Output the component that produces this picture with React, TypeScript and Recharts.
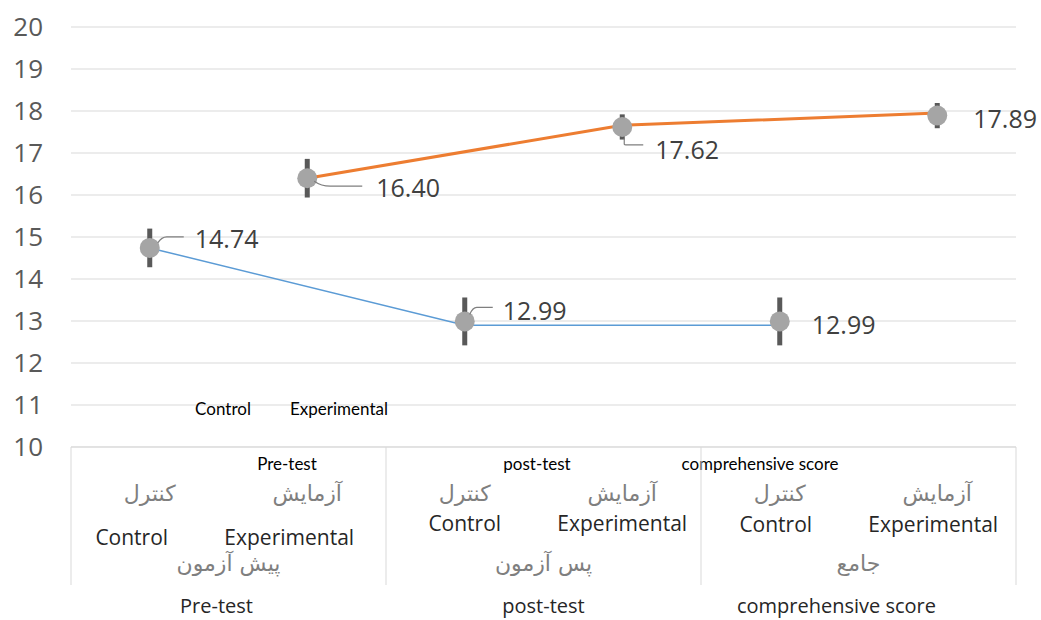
import React from 'react'
import { LineChart, Line, XAxis, YAxis, CartesianGrid, ErrorBar } from 'recharts'

const categories = ['Control', 'Experimental', 'Control', 'Experimental', 'Control', 'Experimental']
const categoriesFa = ['کنترل', 'آزمایش', 'کنترل', 'آزمایش', 'کنترل', 'آزمایش']
const groups = ['Pre-test', 'post-test', 'comprehensive score']
const groupsFa = ['پیش آزمون', 'پس آزمون', 'جامع']
const meanScores = [14.74, 16.4, 12.99, 17.62, 12.99, 17.89]
const errorRange = [0.46, 0.46, 0.57, 0.3, 0.57, 0.3]
const controlLine = [14.74, null, 12.9, null, 12.9, null]
const experimentalLine = [null, 16.4, null, 17.66, null, 17.95]
const yTicks = [10, 11, 12, 13, 14, 15, 16, 17, 18, 19, 20]

const W = 1041
const H = 620
const margin = { top: 27, right: 25, left: 0, bottom: 0 }
const Y_AXIS_W = 71
const X_AXIS_H = 173
const plotW = W - Y_AXIS_W - margin.right
const step = plotW / categories.length

// label placement next to each marker: [dx to text start, dy to text middle, leader path]
const labelPlacement = [
  { dx: 45, dy: -10, leader: 'M8,-5 Q12,-11 17,-11 L34,-11' },
  { dx: 69, dy: 9, leader: 'M7,3 Q14,8 23,8 L55,8' },
  { dx: 38, dy: -11, leader: 'M5,-7 Q8,-14 12,-14 L28,-14' },
  { dx: 33, dy: 22, leader: 'M2,11 L2,17 Q2,18 5,18 L21,18' },
  { dx: 32, dy: 3, leader: '' },
  { dx: 36, dy: 2, leader: '' },
]

const englishShift = [-18, 0, -4]
const englishY = [90, 76, 77]
const groupShift = [-12, 0, -22]

const data = categories.map((c, i) => ({
  cat: c + i,
  mean: meanScores[i],
  err: errorRange[i],
  ctrl: controlLine[i],
  exp: experimentalLine[i],
}))

const renderLabel = (props: any) => {
  const { x, y, value, index } = props
  const p = labelPlacement[index]
  return (
    <g>
      {p.leader && (
        <path d={p.leader} transform={`translate(${x},${y})`} fill="none" stroke="#7F7F7F" strokeWidth={1.2} />
      )}
      <text
        x={x + p.dx}
        y={y + p.dy}
        dominantBaseline="central"
        fill="#404040"
        fontSize={25}
        fontFamily="Open Sans"
      >
        {Number(value).toFixed(2)}
      </text>
    </g>
  )
}

const renderXTick = (props: any) => {
  const { x, y, index } = props
  const g = Math.floor(index / 2)
  const isGroupStart = index % 2 === 0
  const groupCenter = x + step / 2
  return (
    <g>
      <text x={x} y={y + 46} textAnchor="middle" dominantBaseline="central" fill="#7F7F7F" fontSize={22} fontFamily="DejaVu Sans">
        {categoriesFa[index]}
      </text>
      <text x={x + englishShift[g]} y={y + englishY[g]} textAnchor="middle" dominantBaseline="central" fill="#262626" fontSize={21} fontFamily="Open Sans">
        {categories[index]}
      </text>
      {isGroupStart && (
        <g>
          <line x1={x - step / 2} x2={x - step / 2} y1={y} y2={y + 138} stroke="#D9D9D9" />
          <text x={groupCenter} y={y + 116} textAnchor="middle" dominantBaseline="central" fill="#7F7F7F" fontSize={22} fontFamily="DejaVu Sans">
            {groupsFa[g]}
          </text>
          <text x={groupCenter + groupShift[g]} y={y + 158} textAnchor="middle" dominantBaseline="central" fill="#262626" fontSize={20} fontFamily="Open Sans">
            {groups[g]}
          </text>
        </g>
      )}
      {index === categories.length - 1 && (
        <line x1={x + step / 2} x2={x + step / 2} y1={y} y2={y + 138} stroke="#D9D9D9" />
      )}
    </g>
  )
}

// loose text boxes sitting on top of the chart
const notes = [
  { text: 'Control', x: 223, y: 408 },
  { text: 'Experimental', x: 339, y: 408 },
  { text: 'Pre-test', x: 287, y: 463 },
  { text: 'post-test', x: 537, y: 463 },
  { text: 'comprehensive score', x: 760, y: 463 },
]

export default function App() {
  return (
    <div style={{ position: 'absolute', left: 0, top: 0, width: W, height: H, background: '#fff' }}>
      <LineChart width={W} height={H} data={data} margin={margin}>
        <CartesianGrid vertical={false} stroke="#D9D9D9" />
        <XAxis
          dataKey="cat"
          interval={0}
          height={X_AXIS_H}
          padding={{ left: step / 2, right: step / 2 }}
          axisLine={{ stroke: '#D9D9D9' }}
          tickLine={false}
          tickSize={0}
          tickMargin={0}
          tick={renderXTick}
        />
        <YAxis
          domain={[10, 20]}
          ticks={yTicks}
          width={Y_AXIS_W}
          axisLine={false}
          tickLine={false}
          tickSize={0}
          tickMargin={28}
          tick={{ fill: '#595959', fontSize: 26, fontFamily: 'Open Sans' }}
        />
        <Line
          dataKey="mean"
          stroke="none"
          dot={{ r: 10, fill: '#A5A5A5', stroke: '#A5A5A5', strokeWidth: 0 }}
          activeDot={false}
          label={renderLabel}
          isAnimationActive={false}
        >
          <ErrorBar dataKey="err" width={0} strokeWidth={5} stroke="#595959" />
        </Line>
        <Line dataKey="ctrl" stroke="#5B9BD5" strokeWidth={1.5} dot={false} activeDot={false} connectNulls isAnimationActive={false} />
        <Line dataKey="exp" stroke="#ED7D31" strokeWidth={3} dot={false} activeDot={false} connectNulls isAnimationActive={false} />
        {notes.map((n) => (
          <text key={n.text + n.x} x={n.x} y={n.y} textAnchor="middle" dominantBaseline="central" fill="#000" fontSize={17} fontFamily="Lato">
            {n.text}
          </text>
        ))}
      </LineChart>
    </div>
  )
}
